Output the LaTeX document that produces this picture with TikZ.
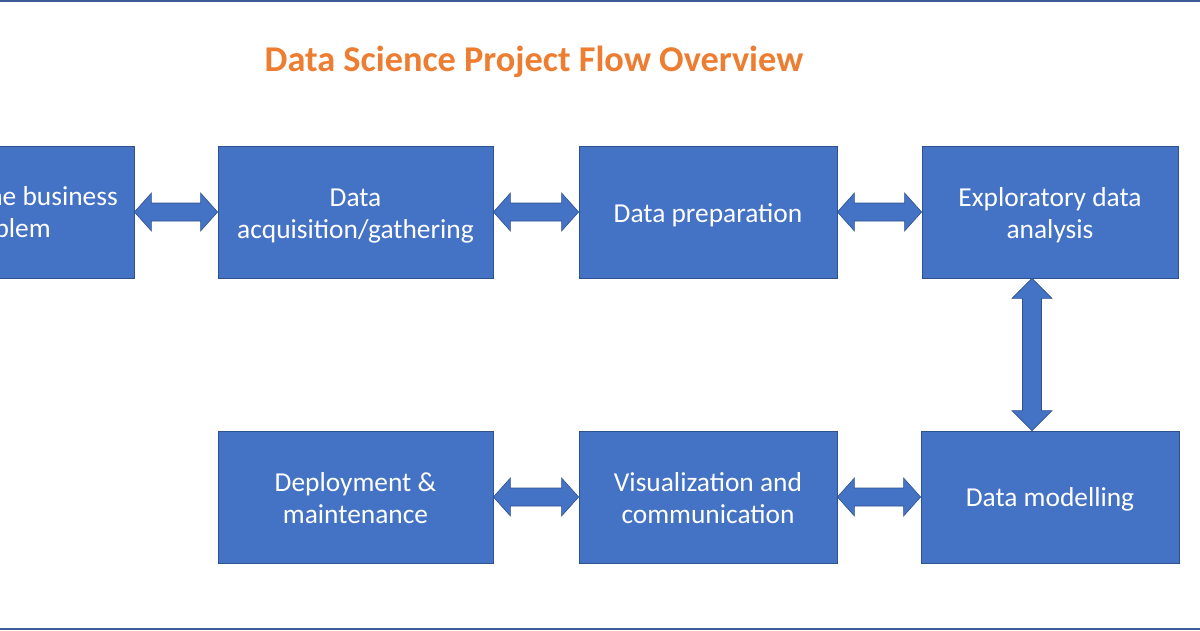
\documentclass[tikz,border=0pt]{standalone}
\usepackage{fontspec}
\setmainfont{Carlito}
\usetikzlibrary{calc}
\definecolor{boxfill}{HTML}{4472C4}
\definecolor{boxedge}{HTML}{2F528F}
\definecolor{titleorange}{HTML}{ED7D31}
\definecolor{frameblue}{HTML}{3E5C99}
\newcommand\harrowpair[2]{%
  \draw[fat] (#1.east) -- ++(17,-19) -- ++(0,10) -- ($(#2.west)+(-17,-9)$) -- ++(0,-10)
    -- (#2.west) -- ++(-17,19) -- ++(0,-10) -- ($(#1.east)+(17,9)$) -- ++(0,10) -- cycle;}
\begin{document}
\begin{tikzpicture}[x=1pt,y=-1pt,
  stepbox/.style={draw=boxedge, line width=0.8pt, fill=boxfill, minimum height=132pt,
    inner sep=0pt},
  boxtext/.style={text=white, font=\fontsize{27.4}{32.5}\selectfont, align=center, inner sep=0pt},
  fat/.style={draw=boxedge, line width=0.6pt, fill=boxfill, line join=miter}]
\useasboundingbox (0,0) rectangle (1200,630);
\clip (0,0) rectangle (1200,630);
\fill[white] (0,0) rectangle (1200,630);
\draw[frameblue, line width=2pt] (0,1) -- (1200,1);
\draw[frameblue, line width=2pt] (0,629) -- (1200,629);

\node[font=\fontsize{36.3}{42}\selectfont\bfseries, text=titleorange, anchor=base, inner sep=0pt]
  (title) at (534,71) {Data Science Project Flow Overview};

% top row
\node[stepbox, minimum width=275pt] (b1) at (-3.5,212) {};
\node[boxtext, anchor=base east] (b1a) at (118,205) {the business};
\node[boxtext, anchor=base east] (b1b) at (51,237) {problem};
\node[stepbox, minimum width=275pt] (b2) at (355.5,212) {};
\node[boxtext] (b2t) at ($(b2)+(0,4)$) {Data\\acquisition/gathering};
\node[stepbox, minimum width=258pt] (b3) at (708,212) {};
\node[boxtext] (b3t) at ($(b3)+(0,3)$) {Data preparation};
\node[stepbox, minimum width=256pt] (b4) at (1050,212) {};
\node[boxtext] (b4t) at ($(b4)+(0,3)$) {Exploratory data\\analysis};

% bottom row
\node[stepbox, minimum width=275pt] (b5) at (355.5,497) {};
\node[boxtext] (b5t) at ($(b5)+(0,1)$) {Deployment \&\\maintenance};
\node[stepbox, minimum width=258pt] (b6) at (708,497) {};
\node[boxtext] (b6t) at ($(b6)+(0,1)$) {Visualization and\\communication};
\node[stepbox, minimum width=258pt] (b7) at (1050,497) {};
\node[boxtext] (b7t) at ($(b7)+(0,2)$) {Data modelling};

% arrows
\harrowpair{b1}{b2}
\harrowpair{b2}{b3}
\harrowpair{b3}{b4}
\harrowpair{b5}{b6}
\harrowpair{b6}{b7}
\draw[fat] ($(b4.south)+(-18,0)$) -- ++(20,20) -- ++(-10.5,0) -- ($(b7.north)+(-8.5,-20)$)
  -- ++(10.5,0) -- ($(b7.north)+(-18,0)$) -- ++(-20,-20) -- ++(10.5,0)
  -- ($(b4.south)+(-27.5,20)$) -- ++(-10.5,0) -- cycle;
\end{tikzpicture}
\end{document}
